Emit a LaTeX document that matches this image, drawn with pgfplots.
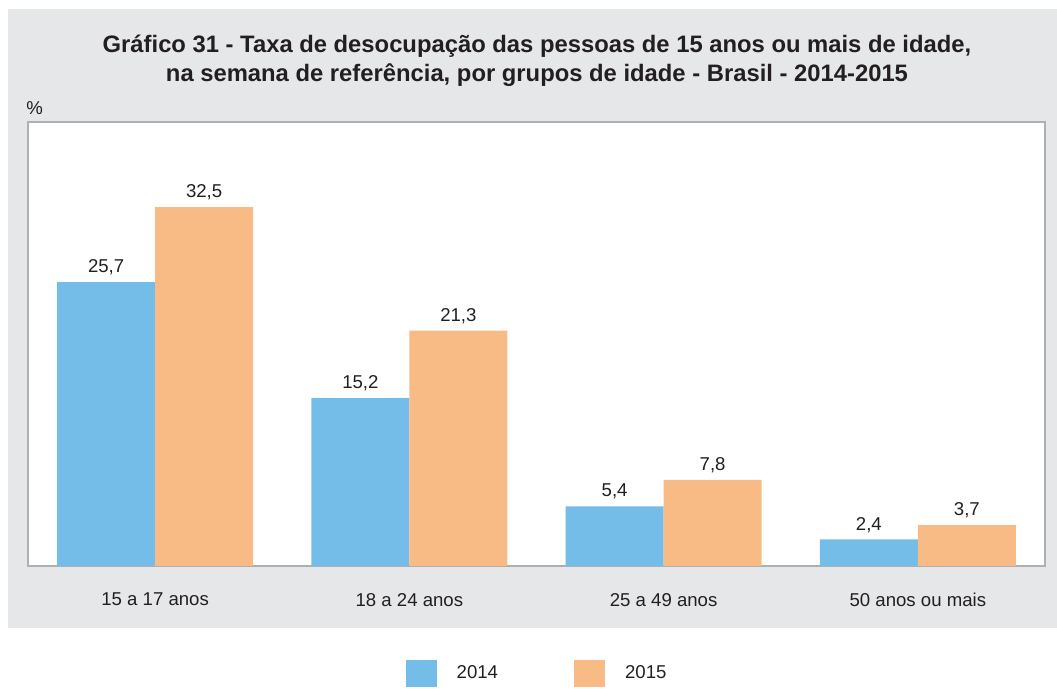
\documentclass[border=0pt]{standalone}
\usepackage{fontspec}
\setmainfont{Liberation Sans}
\usepackage{pgfplots}
\pgfplotsset{compat=1.18}
\definecolor{cblue}{HTML}{74BDE8}
\definecolor{corange}{HTML}{F9BB85}
\definecolor{cpanel}{HTML}{E6E7E9}
\definecolor{caxis}{HTML}{AEAFB1}
\definecolor{ctext}{HTML}{231F20}
\begin{document}
\begin{tikzpicture}
\useasboundingbox (0pt,0pt) rectangle (528.5pt,-344.5pt);
\fill[cpanel] (4pt,-4.5pt) rectangle (528.5pt,-314pt);
\node[font=\bfseries\fontsize{11.9}{14.5}\selectfont, align=center, text=ctext] at (268.5pt,-30.5pt)
 {Gráfico 31 - Taxa de desocupação das pessoas de 15 anos ou mais de idade,\\ na semana de referência, por grupos de idade - Brasil - 2014-2015};
\node[anchor=west, inner sep=0pt, font=\fontsize{9.3}{11}\selectfont, text=ctext] at (13pt,-54pt) {\%};
\begin{axis}[
  at={(14pt,-283pt)}, anchor=south west,
  scale only axis, width=508.5pt, height=222pt,
  xmin=-0.5, xmax=3.5, ymin=0, ymax=40.2,
  axis background/.style={fill=white},
  axis line style={draw=caxis, line width=0.8pt},
  ybar=0pt, bar width=49pt,
  ytick=\empty,
  xtick={0,1,2,3},
  xticklabels={15 a 17 anos, 18 a 24 anos, 25 a 49 anos, 50 anos ou mais},
  major tick length=0pt,
  xticklabel style={font=\fontsize{9.3}{11}\selectfont, text=ctext, yshift=-10pt},
  nodes near coords,
  every node near coord/.append style={font=\fontsize{9.3}{11}\selectfont, text=ctext},
  /pgf/number format/.cd, use comma, fixed, fixed zerofill, precision=1, assume math mode=true,
  /pgfplots/.cd,
  legend columns=2,
  legend style={at={(0.371,-0.243)}, anchor=west, draw=none, fill=none, inner sep=0pt,
     font=\fontsize{9.3}{11}\selectfont, text=ctext,
     /tikz/every odd column/.style={column sep=0pt},
     /tikz/every even column/.style={column sep=36pt}},
  legend image code/.code={\fill[#1] (0pt,-6.75pt) rectangle (15.5pt,6.75pt);},
  legend cell align=left,
]
\addplot[fill=cblue, draw=none] coordinates {(0,25.7) (1,15.2) (2,5.4) (3,2.4)};
\addplot[fill=corange, draw=none] coordinates {(0,32.5) (1,21.3) (2,7.8) (3,3.7)};
\legend{\hspace{8pt}2014,\hspace{8pt}2015}
\end{axis}
\end{tikzpicture}
\end{document}
